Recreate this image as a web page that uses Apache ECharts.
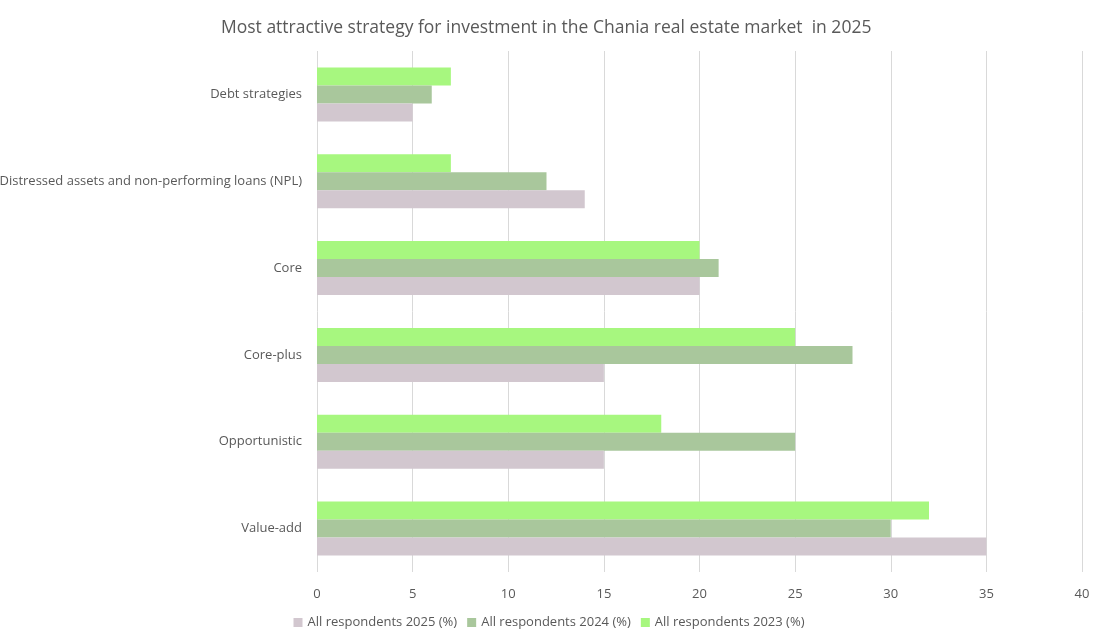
<!DOCTYPE html>
<html><head><meta charset="utf-8">
<script src="https://cdn.jsdelivr.net/npm/echarts@6/dist/echarts.min.js"></script>
<style>html,body{margin:0;padding:0;background:#fff}#c{width:1098px;height:636px}</style>
</head><body><div id="c"></div>
<script>
// categories listed bottom to top
const categories = ["Value-add", "Opportunistic", "Core-plus", "Core", "Distressed assets and non-performing loans (NPL)", "Debt strategies"];
const seriesNames = ["All respondents 2025 (%)", "All respondents 2024 (%)", "All respondents 2023 (%)"];
const values2025 = [35, 15, 15, 20, 14, 5];
const values2024 = [30, 25, 28, 21, 12, 6];
const values2023 = [32, 18, 25, 20, 7, 7];
const xTicks = [0, 5, 10, 15, 20, 25, 30, 35, 40];

const colors = ["#d2c7cf", "#a9c79c", "#a7f77f"];
const font = "'Open Sans', 'Noto Sans', sans-serif";
const chart = echarts.init(document.getElementById('c'));
const mk = (name, data, i) => ({
  name, type: 'bar', data, barWidth: 18, barGap: '0%',
  itemStyle: { color: colors[i] }, animation: false
});
chart.setOption({
  animation: false,
  title: {
    text: "Most attractive strategy for investment in the Chania real estate market  in 2025",
    left: 216, top: 14,
    textStyle: { color: '#595959', fontSize: 17.5, fontWeight: 'normal', fontFamily: font }
  },
  legend: {
    bottom: 2, left: 'center', itemWidth: 9, itemHeight: 9, itemGap: 10,
    icon: 'rect',
    textStyle: { color: '#595959', fontSize: 13, fontFamily: font },
    data: seriesNames
  },
  grid: { left: 317, right: 16, top: 51, bottom: 64, containLabel: false, outerBoundsMode: 'none' },
  xAxis: {
    type: 'value', min: xTicks[0], max: xTicks[xTicks.length - 1], interval: 5,
    axisLine: { show: false }, axisTick: { show: false },
    axisLabel: { color: '#595959', fontSize: 13, fontFamily: font, margin: 16 },
    splitLine: { lineStyle: { color: '#d9d9d9' } }
  },
  yAxis: {
    type: 'category', data: categories,
    axisLine: { show: false }, axisTick: { show: false },
    axisLabel: { color: '#595959', fontSize: 13, fontFamily: font, margin: 15 }
  },
  // series order reversed so 2025 sits at the bottom of each group
  series: [mk(seriesNames[2], values2023, 2), mk(seriesNames[1], values2024, 1), mk(seriesNames[0], values2025, 0)]
});
</script></body></html>
